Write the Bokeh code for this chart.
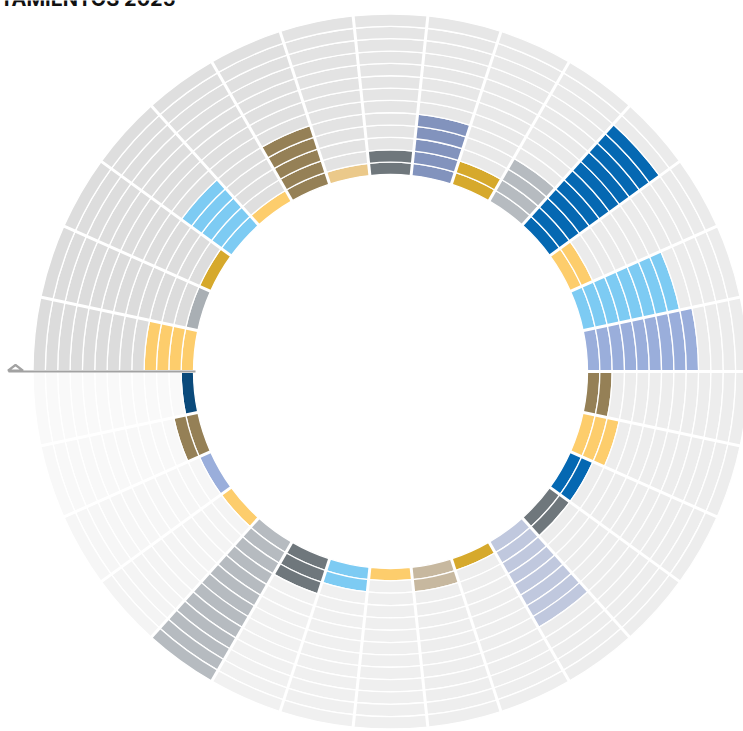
import math
from bokeh.plotting import figure
from bokeh.models import ColumnDataSource, Range1d
from bokeh.core.properties import value
from bokeh.embed import file_html
from bokeh.resources import INLINE

# ---- data ----
title_text = "AYUNTAMIENTOS 2025"
n_rings = 13
# sectors clockwise starting at 9 o'clock
values = [4, 1, 1, 5, 1, 5, 1, 2, 5, 2, 4, 11, 2, 8, 9,
          2, 3, 2, 2, 8, 1, 2, 1, 2, 3, 13, 1, 1, 2, 1]
colors = ["#fdcd6c", "#a9afb4", "#d6a92c", "#7dcbf3", "#fdcd6c", "#958056",
          "#ebc98a", "#6f777c", "#8293bd", "#d6a92c", "#b6bbc0", "#0568b2",
          "#fdcd6c", "#7dcbf3", "#9aaedb", "#958056", "#fdcd6c", "#0568b2",
          "#6f777c", "#c0c8de", "#d6a92c", "#c7b89f", "#fdcd6c", "#7dcbf3",
          "#6f777c", "#b6bbc0", "#fdcd6c", "#9aaedb", "#958056", "#0a4a7b"]
backgrounds = ["#dcdcdc", "#dcdcdc", "#dddddd", "#dedede", "#dfdfdf", "#e0e0e0",
               "#e3e3e3", "#e5e5e5", "#e7e7e7", "#e9e9e9", "#eaeaea", "#ebebeb",
               "#ebebeb", "#ececec", "#ececec", "#ededed", "#ededed", "#ededed",
               "#ededed", "#ededed", "#eeeeee", "#eeeeee", "#efefef", "#f0f0f0",
               "#f1f1f1", "#f2f2f2", "#f4f4f4", "#f6f6f6", "#f8f8f8", "#f9f9f9"]

# ---- geometry (1 data unit = 1 px) ----
W, H = 743, 731
cx, cy = 390, 371          # centre in canvas pixels
r_in, r_out = 197.0, 357.5
dr = (r_out - r_in) / n_rings
n = len(values)
step = 2 * math.pi / n

p = figure(width=W, height=H, output_backend="svg", toolbar_location=None,
           x_range=Range1d(-cx, W - cx), y_range=Range1d(-(H - cy), cy),
           min_border=0, outline_line_color=None, background_fill_color="white")
p.axis.visible = False
p.grid.visible = False

xs, ys, ir, orr, sa, ea, fc = [], [], [], [], [], [], []
for i, (v, c, bg) in enumerate(zip(values, colors, backgrounds)):
    a1 = math.pi - i * step
    a0 = a1 - step
    for k in range(n_rings):
        xs.append(0); ys.append(0)
        ir.append(r_in + k * dr); orr.append(r_in + (k + 1) * dr)
        sa.append(a0); ea.append(a1)
        fc.append(c if k < v else bg)

src = ColumnDataSource(dict(x=xs, y=ys, ir=ir, orr=orr, sa=sa, ea=ea, fc=fc))
p.annular_wedge(x="x", y="y", inner_radius="ir", outer_radius="orr",
                start_angle="sa", end_angle="ea", fill_color="fc",
                line_color="white", line_width=1.3, source=src)

# sector separators
bx0, by0, bx1, by1 = [], [], [], []
for i in range(n):
    a = math.pi - i * step
    bx0.append((r_in - 2) * math.cos(a)); by0.append((r_in - 2) * math.sin(a))
    bx1.append((r_out + 3) * math.cos(a)); by1.append((r_out + 3) * math.sin(a))
p.segment(x0=bx0, y0=by0, x1=bx1, y1=by1, line_color="white", line_width=3)

# start marker line at 9 o'clock
lx0 = -cx + 8
p.segment(x0=[lx0], y0=[0], x1=[-(r_in - 2)], y1=[0], line_color="#a2a2a2", line_width=2.2)
tw, th = 7.5, 6.5
tx = lx0 + 7
p.patch(x=[tx - tw, tx, tx + tw], y=[0.8, th, 0.8], fill_color="white",
        line_color="#a2a2a2", line_width=2.2)

# title (its top is cut by the page edge, as in the reference)
p.text(x=[175 - cx], y=[cy - 10], text=[title_text], text_align="right",
       text_baseline="bottom", text_font=value("Inter"), text_font_style="bold",
       text_font_size="20px", text_color="#111111")

open("out.html", "w").write(file_html(p, INLINE))
